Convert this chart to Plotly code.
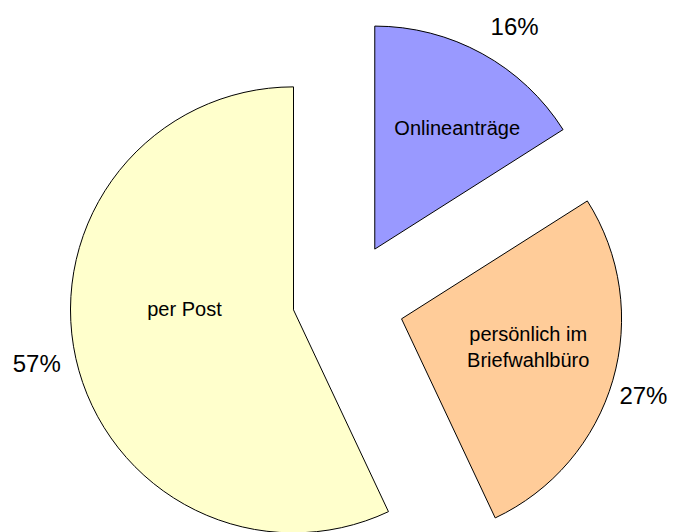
import math
import plotly.graph_objects as go

# ---- data ----
labels = ["Onlineanträge", "persönlich im<br>Briefwahlbüro", "per Post"]
values = [16, 27, 57]
colors = ["#9999FF", "#FFCC99", "#FFFFCC"]

# ---- layout geometry (screen pixels) ----
W, H = 678, 532
BODY = 8                      # default html body margin offsets the figure
slice_geom = [                # exploded slice: vertex x, vertex y, radius
    (372, 248, 225),
    (399, 318, 222),
    (290, 309, 225),
]
label_shift = [(10, 11), (6, -7), (0, -25)]     # nudges for inside labels
pct_anchor = [(482, 35), (612, 394), (62, 362)]  # arc anchor for percent text
PCT_R = 100
FONT = "Liberation Sans, Arial, sans-serif"
TRANSPARENT = "rgba(0,0,0,0)"
n = len(values)

total = float(sum(values))
mid_dirs = []
acc = 0.0
for v in values:
    a = 2 * math.pi * (acc + v / 2) / total
    mid_dirs.append((math.sin(a), -math.cos(a)))
    acc += v


def dom(sx, sy, r):
    cx, cy = sx - BODY, sy - BODY
    x0 = max(0.0, (cx - r) / W)
    x1 = min(1.0, (cx + r) / W)
    y0 = max(0.0, (H - cy - r) / H)
    y1 = min(1.0, (H - cy + r) / H)
    return dict(x=[x0, x1], y=[y0, y1])


def pie(domain, i, fill, text_mode):
    return go.Pie(
        labels=labels, values=values, sort=False, direction="clockwise", rotation=0,
        domain=domain,
        marker=dict(
            colors=[colors[j] if (fill and j == i) else TRANSPARENT for j in range(n)],
            line=dict(color="black", width=[1 if (fill and j == i) else 0 for j in range(n)]),
        ),
        textinfo="percent" if text_mode == "outside" else "label",
        textposition=[text_mode if j == i else "none" for j in range(n)],
        insidetextorientation="horizontal",
        insidetextfont=dict(family=FONT, size=20, color="black"),
        outsidetextfont=dict(family=FONT, size=24, color="black"),
        hoverinfo="skip", showlegend=False,
    )


fig = go.Figure()
# filled, outlined slices
for i, (sx, sy, r) in enumerate(slice_geom):
    fig.add_trace(pie(dom(sx, sy, r), i, True, "none"))
# inside category labels
for i, (sx, sy, r) in enumerate(slice_geom):
    dx, dy = label_shift[i]
    fig.add_trace(pie(dom(sx + dx, sy + dy, r), i, False, "inside"))
# outside percentages
for i in range(n):
    ax, ay = pct_anchor[i]
    ux, uy = mid_dirs[i]
    fig.add_trace(pie(dom(ax - PCT_R * ux, ay - PCT_R * uy, PCT_R), i, False, "outside"))

fig.update_layout(
    width=W, height=H, autosize=False,
    margin=dict(l=0, r=0, t=0, b=0),
    paper_bgcolor="white", plot_bgcolor="white",
    showlegend=False,
)
fig.write_html("out.html")
